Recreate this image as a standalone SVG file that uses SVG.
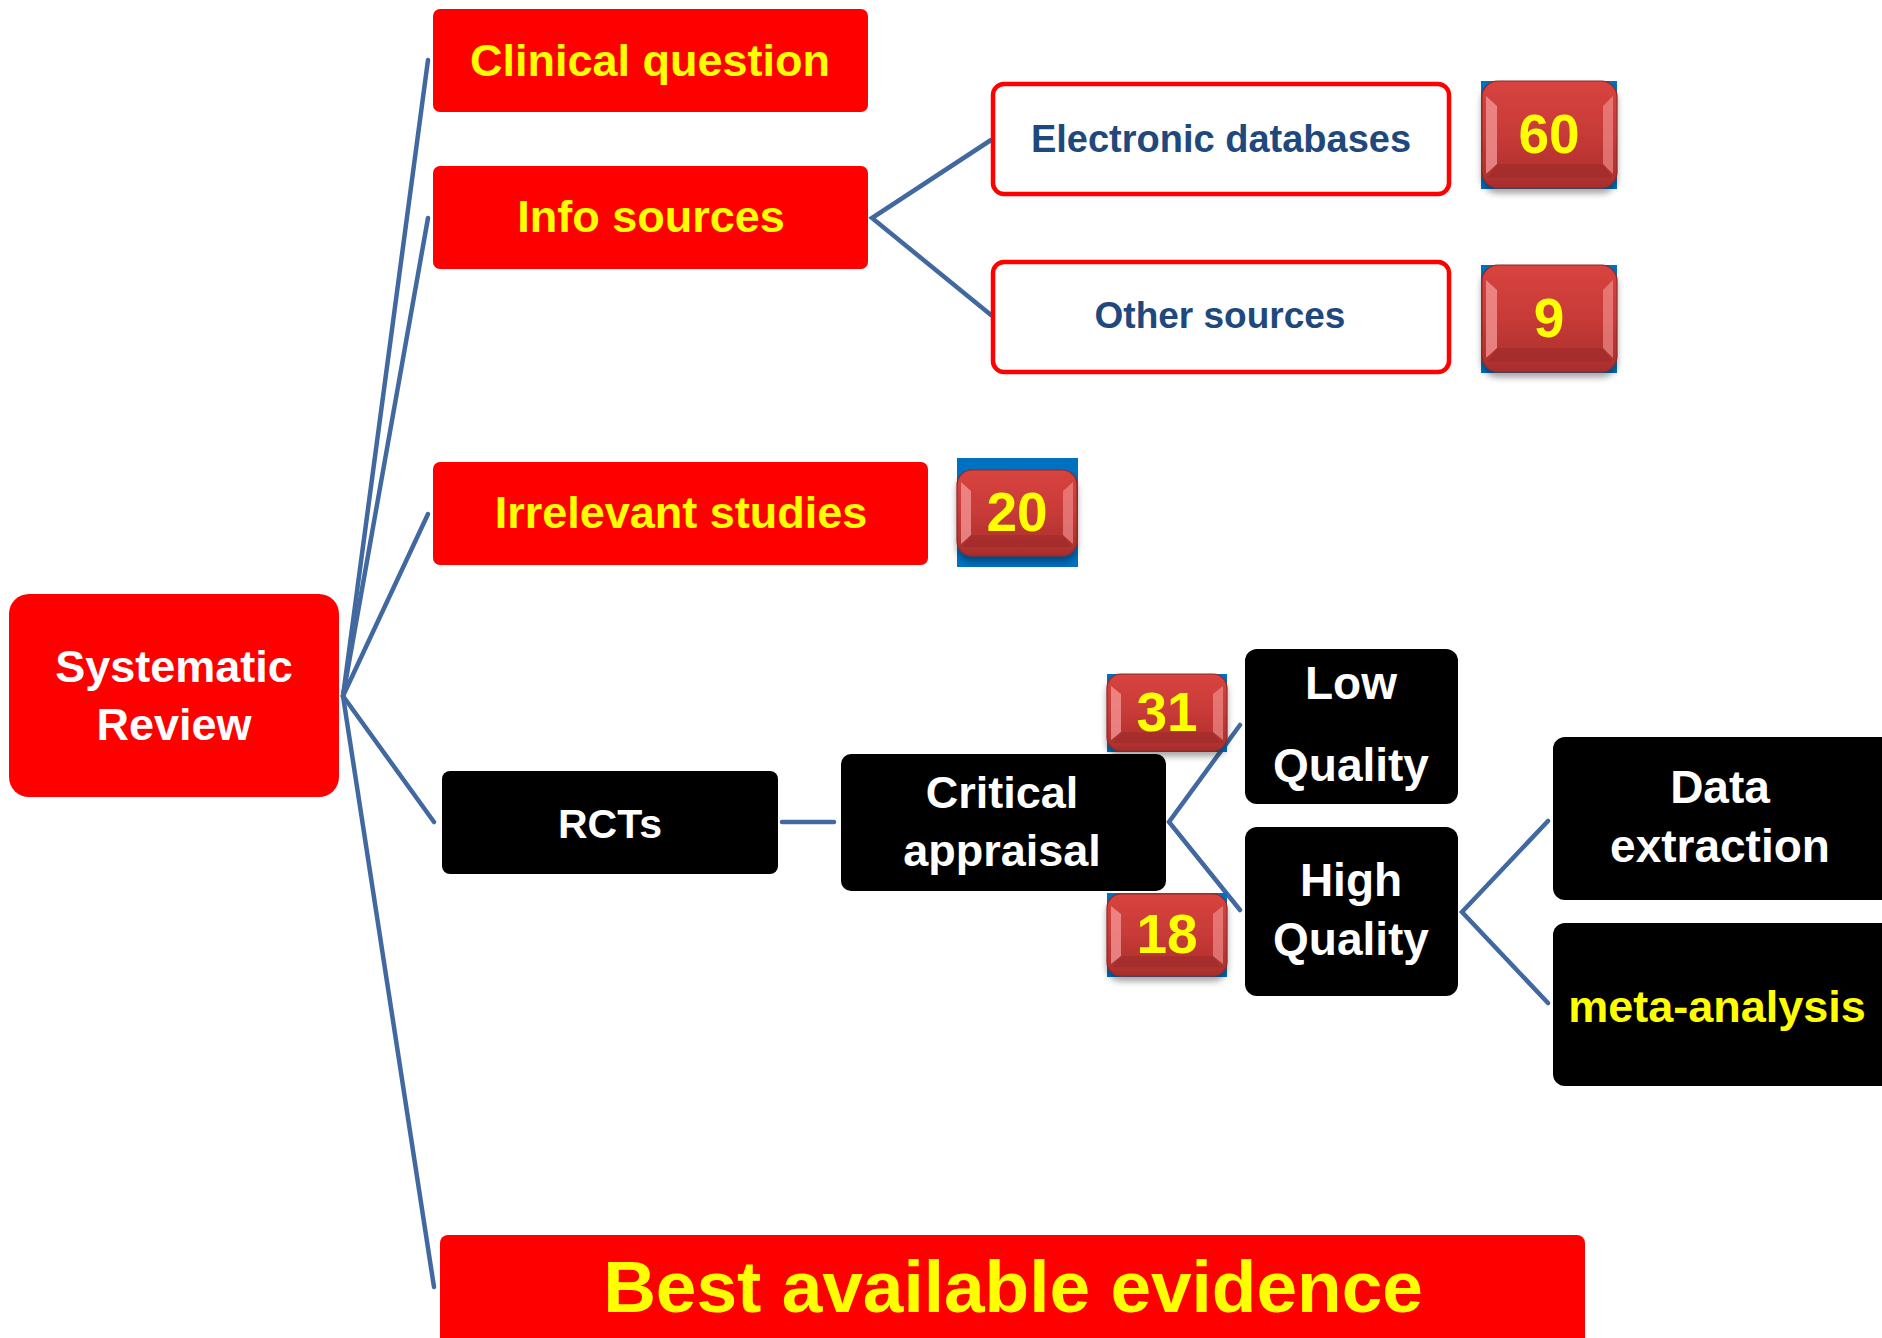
<svg xmlns="http://www.w3.org/2000/svg" width="1882" height="1338" viewBox="0 0 1882 1338">
<style>
.red{fill:#FF0000}
.blk{fill:#000000}
.outl{fill:#FFFFFF;stroke:#FF0000;stroke-width:4.5}
.t{font-family:"Liberation Sans",Arial,sans-serif;font-weight:bold;text-anchor:middle}
.y{fill:#FFFF00}
.w{fill:#FFFFFF}
.db{fill:#1F497D}
.conn{stroke:#41699F;stroke-width:4.5;fill:none;stroke-linecap:round}
.bg{fill:#0070C0}
.btn{fill:url(#gBtn);stroke:#8E2A28;stroke-width:1.2}
.bevL{fill:#F59A98;opacity:0.75}
.bevR{fill:#F59A98;opacity:0.6}
.bevB{fill:#8E2624;opacity:0.35}
.num{font-family:"Liberation Sans",Arial,sans-serif;font-weight:bold;text-anchor:middle;fill:#FFFF00;font-size:55px}
</style>
<defs>
<linearGradient id="gBtn" x1="0" y1="0" x2="0" y2="1">
<stop offset="0" stop-color="#D8443F"/>
<stop offset="0.5" stop-color="#C73A37"/>
<stop offset="1" stop-color="#A92E2C"/>
</linearGradient>
<filter id="sh" x="-20%" y="-20%" width="140%" height="150%">
<feDropShadow dx="0" dy="5" stdDeviation="3" flood-color="#000" flood-opacity="0.35"/>
</filter>
</defs>
<rect width="1882" height="1338" fill="#FFFFFF"/>

<g id="connectors">
<line class="conn" x1="343" y1="696" x2="428" y2="60"/>
<line class="conn" x1="343" y1="696" x2="428" y2="218"/>
<line class="conn" x1="343" y1="696" x2="428" y2="514"/>
<line class="conn" x1="343" y1="696" x2="434" y2="822"/>
<line class="conn" x1="343" y1="696" x2="434" y2="1287"/>
<polyline class="conn" points="991,140 872,218 991,315"/>
<line class="conn" x1="782" y1="822" x2="834" y2="822"/>
<polyline class="conn" points="1240,725 1169,822 1240,910"/>
<polyline class="conn" points="1548,821 1462,912 1548,1003"/>
</g>

<g id="systematic-review">
<rect class="red" x="9" y="594" width="330" height="203" rx="20"/>
<text class="t w" x="174" y="682" font-size="45">Systematic</text>
<text class="t w" x="174" y="740" font-size="45">Review</text>
</g>

<g id="clinical-question">
<rect class="red" x="433" y="9" width="435" height="103" rx="7"/>
<text class="t y" x="650" y="76" font-size="45">Clinical question</text>
</g>

<g id="info-sources">
<rect class="red" x="433" y="166" width="435" height="103" rx="7"/>
<text class="t y" x="651" y="232" font-size="45">Info sources</text>
</g>

<g id="electronic-databases">
<rect class="outl" x="993" y="84" width="456" height="110" rx="11"/>
<text class="t db" x="1221" y="152" font-size="38">Electronic databases</text>
</g>

<g id="other-sources">
<rect class="outl" x="993" y="262" width="456" height="110" rx="11"/>
<text class="t db" x="1220" y="328" font-size="37">Other sources</text>
</g>

<g id="badge-60">
<rect class="bg" x="1481" y="81" width="136" height="108"/>
<g filter="url(#sh)">
<rect class="btn" x="1482" y="81" width="135" height="107" rx="16"/>
</g>
<path class="bevL" d="M1486,96 L1497,106 L1497,164 L1486,174 Z"/>
<path class="bevR" d="M1613,96 L1603,106 L1603,164 L1613,174 Z"/>
<path class="bevB" d="M1497,164 L1603,164 L1612,178 L1488,178 Z"/>
<text class="num" x="1549" y="153">60</text>
</g>

<g id="badge-9">
<rect class="bg" x="1481" y="265" width="136" height="108"/>
<g filter="url(#sh)">
<rect class="btn" x="1482" y="265" width="135" height="107" rx="16"/>
</g>
<path class="bevL" d="M1486,280 L1497,290 L1497,348 L1486,358 Z"/>
<path class="bevR" d="M1613,280 L1603,290 L1603,348 L1613,358 Z"/>
<path class="bevB" d="M1497,348 L1603,348 L1612,362 L1488,362 Z"/>
<text class="num" x="1549" y="337">9</text>
</g>

<g id="irrelevant-studies">
<rect class="red" x="433" y="462" width="495" height="103" rx="7"/>
<text class="t y" x="681" y="528" font-size="45">Irrelevant studies</text>
</g>

<g id="badge-20">
<rect class="bg" x="957" y="458" width="121" height="109"/>
<g filter="url(#sh)">
<rect class="btn" x="957" y="470" width="120" height="86" rx="15"/>
</g>
<path class="bevL" d="M961,482 L971,491 L971,535 L961,544 Z"/>
<path class="bevR" d="M1073,482 L1063,491 L1063,535 L1073,544 Z"/>
<path class="bevB" d="M971,535 L1063,535 L1072,547 L962,547 Z"/>
<text class="num" x="1017" y="531">20</text>
</g>

<g id="rcts">
<rect class="blk" x="442" y="771" width="336" height="103" rx="8"/>
<text class="t w" x="610" y="838" font-size="41">RCTs</text>
</g>

<g id="critical-appraisal">
<rect class="blk" x="841" y="754" width="325" height="137" rx="10"/>
<text class="t w" x="1002" y="808" font-size="45">Critical</text>
<text class="t w" x="1002" y="866" font-size="45">appraisal</text>
</g>

<g id="badge-31">
<rect class="bg" x="1107" y="674" width="120" height="78"/>
<g filter="url(#sh)">
<rect class="btn" x="1107" y="674" width="120" height="77" rx="14"/>
</g>
<path class="bevL" d="M1111,686 L1121,694 L1121,732 L1111,740 Z"/>
<path class="bevR" d="M1223,686 L1213,694 L1213,732 L1223,740 Z"/>
<path class="bevB" d="M1121,732 L1213,732 L1222,743 L1112,743 Z"/>
<text class="num" x="1167" y="731">31</text>
</g>

<g id="badge-18">
<rect class="bg" x="1107" y="893" width="120" height="84"/>
<g filter="url(#sh)">
<rect class="btn" x="1107" y="894" width="120" height="82" rx="14"/>
</g>
<path class="bevL" d="M1111,906 L1121,914 L1121,956 L1111,964 Z"/>
<path class="bevR" d="M1223,906 L1213,914 L1213,956 L1223,964 Z"/>
<path class="bevB" d="M1121,956 L1213,956 L1222,967 L1112,967 Z"/>
<text class="num" x="1167" y="953">18</text>
</g>

<g id="low-quality">
<rect class="blk" x="1245" y="649" width="213" height="155" rx="12"/>
<text class="t w" x="1351" y="699" font-size="46">Low</text>
<text class="t w" x="1351" y="781" font-size="46">Quality</text>
</g>

<g id="high-quality">
<rect class="blk" x="1245" y="827" width="213" height="169" rx="12"/>
<text class="t w" x="1351" y="896" font-size="46">High</text>
<text class="t w" x="1351" y="955" font-size="46">Quality</text>
</g>

<g id="data-extraction">
<rect class="blk" x="1553" y="737" width="340" height="163" rx="12"/>
<text class="t w" x="1720" y="803" font-size="46">Data</text>
<text class="t w" x="1720" y="862" font-size="46">extraction</text>
</g>

<g id="meta-analysis">
<rect class="blk" x="1553" y="923" width="340" height="163" rx="12"/>
<text class="t y" x="1717" y="1022" font-size="45">meta-analysis</text>
</g>

<g id="best-available-evidence">
<rect class="red" x="440" y="1235" width="1145" height="115" rx="8"/>
<text class="t y" x="1013" y="1312" font-size="73">Best available evidence</text>
</g>
</svg>
